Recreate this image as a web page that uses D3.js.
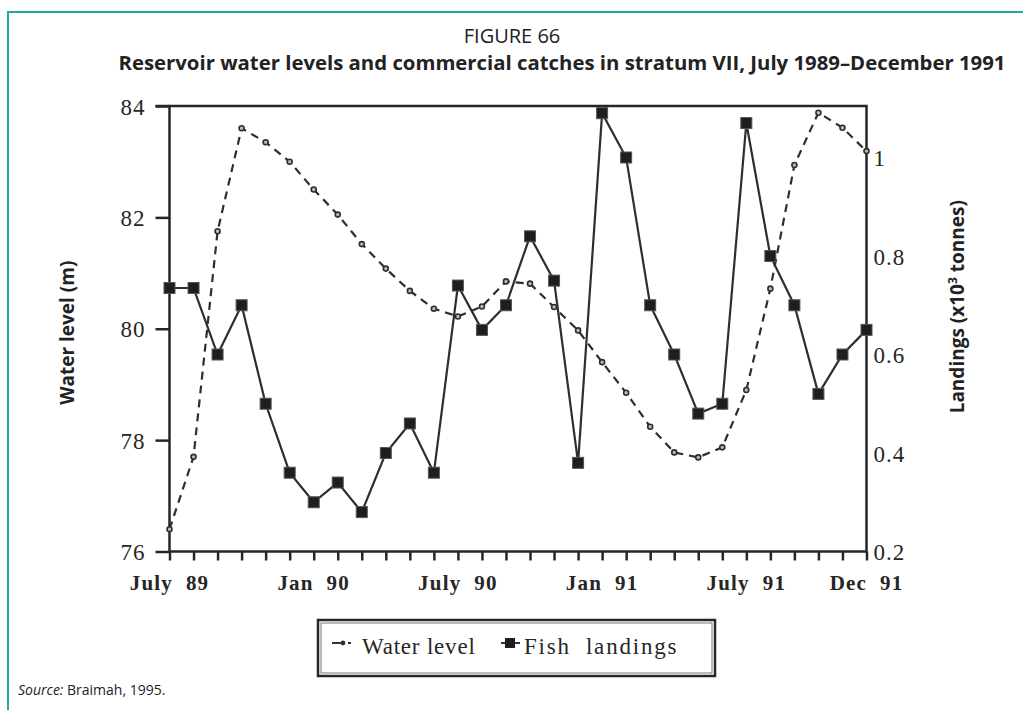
<!DOCTYPE html>
<html>
<head>
<meta charset="utf-8">
<script src="https://cdn.jsdelivr.net/npm/d3@7"></script>
<style>
  html, body { margin: 0; padding: 0; background: #fff; }
  svg { display: block; }
  text { white-space: pre; }
</style>
</head>
<body>
<script>
// Monthly series, July 1989 – December 1991
const months = d3.range(30);
const waterLevel = [
  76.4, 77.7, 81.75, 83.6, 83.35, 83.0, 82.5, 82.05, 81.52, 81.08,
  80.68, 80.36, 80.22, 80.4, 80.85, 80.81, 80.39, 79.97, 79.4, 78.85,
  78.24, 77.78, 77.69, 77.87, 78.9, 80.72, 82.94, 83.88, 83.61, 83.19
];
const fishLandings = [
  0.735, 0.735, 0.6, 0.7, 0.5, 0.36, 0.3, 0.34, 0.28, 0.4,
  0.46, 0.36, 0.74, 0.65, 0.7, 0.84, 0.75, 0.38, 1.09, 1.0,
  0.7, 0.6, 0.48, 0.5, 1.07, 0.8, 0.7, 0.52, 0.6, 0.65
];
const leftTicks = [76, 78, 80, 82, 84];
const rightTicks = [0.2, 0.4, 0.6, 0.8, 1];
const xLabels = [
  { i: 0, t: "July  89" }, { i: 6, t: "Jan  90" }, { i: 12, t: "July  90" },
  { i: 18, t: "Jan  91" }, { i: 24, t: "July  91" }, { i: 29, t: "Dec  91" }
];

const W = 1023, H = 710;
const svg = d3.select("body").append("svg").attr("width", W).attr("height", H);

// Frame
const teal = "#1ea89f";
svg.append("path")
  .attr("d", `M8,${H} V12 H${W}`)
  .attr("fill", "none").attr("stroke", teal).attr("stroke-width", 2);

// Title
const narrow = "'Liberation Sans Narrow', 'Open Sans', sans-serif";
svg.append("text").attr("x", 512).attr("y", 43).attr("text-anchor", "middle")
  .attr("font-family", narrow).attr("font-size", 20).attr("fill", "#222")
  .text("FIGURE 66");
svg.append("text").attr("x", 562).attr("y", 70).attr("text-anchor", "middle")
  .attr("font-family", narrow).attr("font-weight", "bold").attr("font-size", 20)
  .attr("fill", "#222").attr("textLength", 887).attr("lengthAdjust", "spacingAndGlyphs")
  .text("Reservoir water levels and commercial catches in stratum VII, July 1989–December 1991");

// Plot area
const L = 169.5, R = 866.5, T = 106, B = 551.5;
const x = d3.scaleLinear().domain([0, 29]).range([L, R]);
const yL = d3.scaleLinear().domain([76, 84]).range([B, T]);
const yR = d3.scaleLinear().domain([0.2, 0.2 + (B - T) / 492.5]).range([B, T]);

const ink = "#262626";
const serif = "'Liberation Serif', 'DejaVu Serif', serif";

// Left axis
const gL = svg.append("g").attr("transform", `translate(${L},0)`)
  .call(d3.axisLeft(yL).tickValues(leftTicks).tickSize(14).tickPadding(10).tickFormat(d3.format("d")));
gL.select(".domain").remove();
gL.selectAll("line").attr("stroke", ink).attr("stroke-width", 2.5);
gL.selectAll("text").attr("font-family", serif).attr("font-size", 23).attr("fill", ink)
  .attr("letter-spacing", 1).attr("dy", "0.35em");

// Right axis (labels only)
const gR = svg.append("g").attr("transform", `translate(${R},0)`)
  .call(d3.axisRight(yR).tickValues(rightTicks).tickSize(0).tickPadding(7)
    .tickFormat(d => d === 1 ? "1" : d3.format(".1f")(d)));
gR.select(".domain").remove();
gR.selectAll("text").attr("font-family", serif).attr("font-size", 23).attr("fill", ink)
  .attr("letter-spacing", 1).attr("dy", "0.35em");

// Bottom axis
const gB = svg.append("g").attr("transform", `translate(0,${B})`)
  .call(d3.axisBottom(x).tickValues(months).tickSize(9).tickFormat(""));
gB.select(".domain").remove();
gB.selectAll("line").attr("stroke", ink).attr("stroke-width", 2.5);

svg.append("g").selectAll("text").data(xLabels).join("text")
  .attr("x", d => x(d.i)).attr("y", 590).attr("text-anchor", "middle")
  .attr("font-family", serif).attr("font-weight", "bold").attr("font-size", 21)
  .attr("letter-spacing", 1.2).attr("fill", ink)
  .text(d => d.t);

// Plot box
svg.append("rect").attr("x", L).attr("y", T).attr("width", R - L).attr("height", B - T)
  .attr("fill", "none").attr("stroke", ink).attr("stroke-width", 2.5);
svg.append("line").attr("x1", L - 14).attr("x2", L).attr("y1", T).attr("y2", T)
  .attr("stroke", ink).attr("stroke-width", 2.5);

// Axis titles
svg.append("text").attr("transform", `translate(74,${(T + B) / 2 + 4}) rotate(-90)`)
  .attr("text-anchor", "middle").attr("font-family", "Open Sans").attr("font-weight", "bold")
  .attr("font-size", 19).attr("fill", "#222").text("Water level (m)");
const rt = svg.append("text").attr("transform", `translate(964,${(T + B) / 2 - 22}) rotate(-90)`)
  .attr("text-anchor", "middle").attr("font-family", "Open Sans").attr("font-weight", "bold")
  .attr("font-size", 19).attr("fill", "#222");
rt.append("tspan").text("Landings (x10");
rt.append("tspan").attr("font-size", 12).attr("dy", -7).text("3");
rt.append("tspan").attr("dy", 7).text(" tonnes)");

// Water level: dashed line with small open circles
svg.append("path").datum(waterLevel)
  .attr("d", d3.line().x((d, i) => x(i)).y(d => yL(d)))
  .attr("fill", "none").attr("stroke", "#2e2e2e").attr("stroke-width", 2.2)
  .attr("stroke-dasharray", "8,6");
svg.append("g").selectAll("circle").data(waterLevel).join("circle")
  .attr("cx", (d, i) => x(i)).attr("cy", d => yL(d)).attr("r", 2.5)
  .attr("fill", "#bbb").attr("stroke", "#2e2e2e").attr("stroke-width", 1.6);

// Fish landings: solid line with filled squares
svg.append("path").datum(fishLandings)
  .attr("d", d3.line().x((d, i) => x(i)).y(d => yR(d)))
  .attr("fill", "none").attr("stroke", "#2e2e2e").attr("stroke-width", 2.2);
const sq = 11;
svg.append("g").selectAll("rect").data(fishLandings).join("rect")
  .attr("x", (d, i) => x(i) - sq / 2).attr("y", d => yR(d) - sq / 2)
  .attr("width", sq).attr("height", sq)
  .attr("fill", "#1e1e1e").attr("stroke", "#555").attr("stroke-width", 1);

// Legend
const lg = svg.append("g");
lg.append("rect").attr("x", 318).attr("y", 620).attr("width", 397).attr("height", 56)
  .attr("fill", "#fff").attr("stroke", ink).attr("stroke-width", 2.5);
lg.append("rect").attr("x", 321).attr("y", 623).attr("width", 391).attr("height", 50)
  .attr("fill", "none").attr("stroke", "#555").attr("stroke-width", 0.8);
lg.append("line").attr("x1", 332).attr("x2", 341).attr("y1", 643).attr("y2", 643)
  .attr("stroke", "#333").attr("stroke-width", 2);
lg.append("circle").attr("cx", 343).attr("cy", 643).attr("r", 2.4)
  .attr("fill", "#333");
lg.append("line").attr("x1", 348).attr("x2", 351).attr("y1", 643).attr("y2", 643)
  .attr("stroke", "#333").attr("stroke-width", 2);
lg.append("text").attr("x", 362).attr("y", 654).attr("font-family", serif)
  .attr("font-size", 23).attr("letter-spacing", 0.8).attr("fill", ink).text("Water level");
lg.append("line").attr("x1", 501).attr("x2", 520).attr("y1", 643).attr("y2", 643)
  .attr("stroke", "#333").attr("stroke-width", 2);
lg.append("rect").attr("x", 505).attr("y", 638).attr("width", 10).attr("height", 10)
  .attr("fill", "#1e1e1e");
lg.append("text").attr("x", 524).attr("y", 654).attr("font-family", serif)
  .attr("font-size", 23).attr("letter-spacing", 1.8).attr("fill", ink).text("Fish  landings");

// Source note
const src = svg.append("text").attr("x", 18).attr("y", 695)
  .attr("font-family", "Open Sans").attr("font-size", 14).attr("fill", "#222");
src.append("tspan").attr("font-style", "italic").text("Source:");
src.append("tspan").text(" Braimah, 1995.");
</script>
</body>
</html>
